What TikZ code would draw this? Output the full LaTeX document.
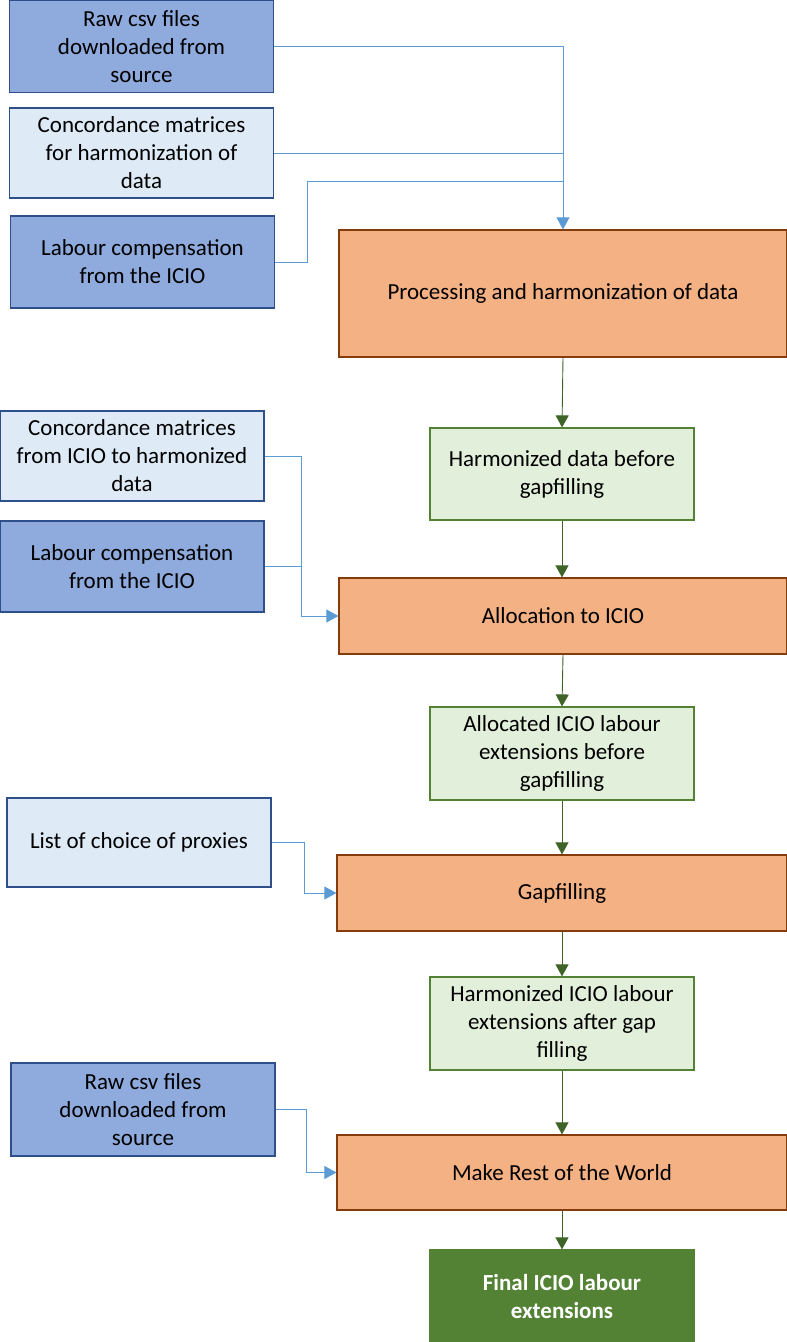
\documentclass[tikz,border=0pt]{standalone}
\usepackage{fontspec}
\setmainfont{Carlito}
\usetikzlibrary{arrows.meta,positioning}

\definecolor{blueDark}{HTML}{8FAADC}
\definecolor{blueLight}{HTML}{DEEBF7}
\definecolor{blueLine}{HTML}{2F4F8A}
\definecolor{blueArrow}{HTML}{5B9BD5}
\definecolor{orangeFill}{HTML}{F4B183}
\definecolor{orangeLine}{HTML}{843C0C}
\definecolor{greenLight}{HTML}{E2EFDA}
\definecolor{greenLine}{HTML}{548235}
\definecolor{greenArrow}{HTML}{3F6428}

\begin{document}
\begin{tikzpicture}[
    x=1pt, y=-1pt,
    font=\fontsize{23}{28}\selectfont,
    >={Triangle[length=12pt,width=13pt]},
    inputA/.style={draw=blueLine, fill=blueDark, line width=1.4pt, align=center,
      minimum width=264pt, minimum height=92pt, inner sep=2pt},
    inputB/.style={inputA, fill=blueLight},
    proceso/.style={draw=orangeLine, fill=orangeFill, line width=1.2pt, align=center,
      minimum width=448pt, inner sep=2pt},
    salida/.style={draw=greenLine, fill=greenLight, line width=1.2pt, align=center,
      minimum width=264pt, minimum height=92pt, inner sep=2pt},
    feed/.style={blueArrow, line width=0.9pt},
    flujo/.style={->, greenArrow, line width=0.9pt}
  ]

    \useasboundingbox (0,0) rectangle (787,1342);

    % --- Entradas (izquierda) ---
    \node[inputA] (raw1) at (141.5,46.5) {Raw csv files\\downloaded from\\source};
    \node[inputB, minimum height=90pt] (conc1) at (141.5,153) {Concordance matrices\\for harmonization of\\data};
    \node[inputA] (lab1) at (142.5,262) {Labour compensation\\from the ICIO};
    \node[inputB, minimum height=90pt] (concI) at (132,456) {Concordance matrices\\from ICIO to harmonized\\data};
    \node[inputA, minimum height=91pt] (lab2) at (132,566.5) {Labour compensation\\from the ICIO};
    \node[inputB, minimum height=89pt] (proxy) at (139,842.5) {List of choice of proxies};
    \node[inputA, minimum height=93pt] (raw2) at (143,1109.5) {Raw csv files\\downloaded from\\source};

    % --- Procesos (naranja) ---
    \node[proceso, minimum height=127pt] (proc) at (563,293.5) {Processing and harmonization of data};
    \node[proceso, minimum height=76pt] (alloc) at (563,616) {Allocation to ICIO};
    \node[proceso, minimum width=450pt, minimum height=76pt] (gap) at (562,893) {Gapfilling};
    \node[proceso, minimum width=450pt, minimum height=75pt] (row) at (562,1172.5) {Make Rest of the World};

    % --- Resultados intermedios (verde) ---
    \node[salida] (harm) at (562,474) {Harmonized data before\\gapfilling};
    \node[salida, minimum height=93pt] (allocd) at (562,753.5) {Allocated ICIO labour\\extensions before\\gapfilling};
    \node[salida, minimum height=93pt] (harmI) at (562,1023.5) {Harmonized ICIO labour\\extensions after gap\\filling};
    \node[salida, fill=greenLine, text=white, font=\fontsize{23}{28}\selectfont\bfseries]
      (final) at (562,1296) {Final ICIO labour\\extensions};

    % --- Conectores de entrada (azul) ---
    \draw[feed, ->] (raw1.east) -| (proc.north);
    \draw[feed] (conc1.east) -- (conc1.east -| proc.north);
    \draw[feed] (lab1.east) -- ++(32,0) |- ([yshift=48pt]proc.north);
    \draw[feed, ->] (concI.east) -- ++(37,0) |- (alloc.west);
    \draw[feed] (lab2.east) -- ++(37,0);
    \draw[feed, ->] (proxy.east) -- ++(33,0) |- (gap.west);
    \draw[feed, ->] (raw2.east) -- ++(31,0) |- (row.west);

    % --- Flujo principal (verde) ---
    \draw[flujo] (proc.south) -- (harm.north);
    \draw[flujo] (harm.south) -- (harm.south |- alloc.north);
    \draw[flujo] (alloc.south) -- (allocd.north);
    \draw[flujo] (allocd.south) -- (gap.north);
    \draw[flujo] (gap.south) -- (harmI.north);
    \draw[flujo] (harmI.south) -- (row.north);
    \draw[flujo] (row.south) -- (final.north);

  \end{tikzpicture}
\end{document}
